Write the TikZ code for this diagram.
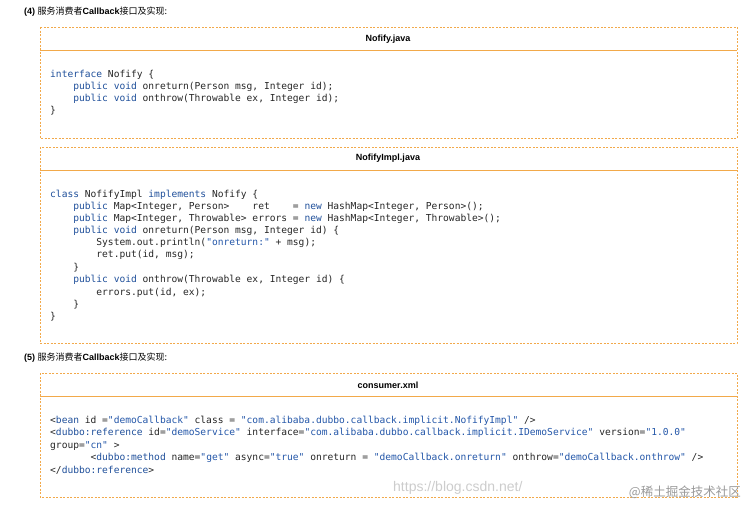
\documentclass[tikz,border=0pt]{standalone}
\usepackage{fontspec}
\setmainfont{Liberation Sans}
\setmonofont{DejaVu Sans Mono}
\newfontfamily\cjk{Noto Sans CJK SC}
\definecolor{kw}{HTML}{1F4F9A}
\definecolor{st}{HTML}{2356A8}
\definecolor{bd}{HTML}{F2A94A}
\newcommand\kw[1]{\textcolor{kw}{#1}}
\newcommand\st[1]{\textcolor{st}{#1}}
\begin{document}
\begin{tikzpicture}[x=1pt,y=-1pt,
  box/.style={draw=bd,dash pattern=on 2pt off 1.5pt,line width=0.7pt},
  hline/.style={draw=bd,line width=0.9pt},
  code/.style={anchor=west,inner sep=0pt,font=\ttfamily\fontsize{9.6}{10}\selectfont,text=black!85},
  head/.style={inner sep=0pt,font=\bfseries\fontsize{9}{10}\selectfont},
  sec/.style={anchor=west,inner sep=0pt,font=\fontsize{9}{10}\selectfont}]
\useasboundingbox (0,0) rectangle (745,507);
\node[sec] (s4) at (24,12) {\textbf{(4)} {\cjk 服务消费者}\textbf{Callback}{\cjk 接口及实现:}};
% box 1
\draw[box] (40,27) rectangle (737,138);
\draw[hline] (40,50) -- (737,50);
\node[head] (h1) at (388,39) {Nofify.java};
\node[code] (a1) at (50,75) {\kw{interface} Nofify \{};
\node[code] (a2) at (50,87) {~~~~\kw{public} \kw{void} onreturn(Person msg, Integer id);};
\node[code] (a3) at (50,99) {~~~~\kw{public} \kw{void} onthrow(Throwable ex, Integer id);};
\node[code] (a4) at (50,111) {\}};
% box 2
\draw[box] (40,147) rectangle (737,343);
\draw[hline] (40,170) -- (737,170);
\node[head] (h2) at (388,158) {NofifyImpl.java};
\node[code] (b1) at (50,195) {\kw{class} NofifyImpl \kw{implements} Nofify \{};
\node[code] (b2) at (50,207) {~~~~\kw{public} Map<Integer, Person>~~~~ret~~~~= \kw{new} HashMap<Integer, Person>();};
\node[code] (b3) at (50,219) {~~~~\kw{public} Map<Integer, Throwable> errors = \kw{new} HashMap<Integer, Throwable>();};
\node[code] (b4) at (50,231) {~~~~\kw{public} \kw{void} onreturn(Person msg, Integer id) \{};
\node[code] (b5) at (50,243) {~~~~~~~~System.out.println(\st{"onreturn:"} + msg);};
\node[code] (b6) at (50,255) {~~~~~~~~ret.put(id, msg);};
\node[code] (b7) at (50,268) {~~~~\}};
\node[code] (b8) at (50,280) {~~~~\kw{public} \kw{void} onthrow(Throwable ex, Integer id) \{};
\node[code] (b9) at (50,293) {~~~~~~~~errors.put(id, ex);};
\node[code] (b10) at (50,305) {~~~~\}};
\node[code] (b11) at (50,317) {\}};
% section 5
\node[sec] (s5) at (24,358) {\textbf{(5)} {\cjk 服务消费者}\textbf{Callback}{\cjk 接口及实现:}};
\draw[box] (40,373) rectangle (737,497);
\draw[hline] (40,396) -- (737,396);
\node[head] (h3) at (388,385) {consumer.xml};
\node[code] (c1) at (50,421) {<\kw{bean} id =\st{"demoCallback"} class = \st{"com.alibaba.dubbo.callback.implicit.NofifyImpl"} />};
\node[code] (c2) at (50,433) {<\kw{dubbo:reference} id=\st{"demoService"} interface=\st{"com.alibaba.dubbo.callback.implicit.IDemoService"} version=\st{"1.0.0"}};
\node[code] (c3) at (50,446) {group=\st{"cn"} >};
\node[code] (c4) at (50,458) {~~~~~~~<\kw{dubbo:method} name=\st{"get"} async=\st{"true"} onreturn = \st{"demoCallback.onreturn"} onthrow=\st{"demoCallback.onthrow"} />};
\node[code] (c5) at (50,470) {</\kw{dubbo:reference}>};
% watermark
\node[anchor=west,inner sep=0pt,text=black!20,font=\fontsize{14}{14}\selectfont\rmfamily] (w1) at (393,488) {https://blog.csdn.net/};
\node[anchor=east,inner sep=0pt,text=black!40,font=\cjk\fontsize{12.5}{13}\selectfont] (w2) at (741,492) {@稀土掘金技术社区};
\end{tikzpicture}
\end{document}
